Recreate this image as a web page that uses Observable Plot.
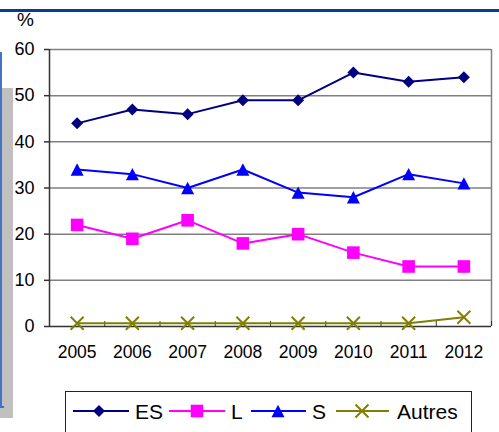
<!DOCTYPE html>
<html><head><meta charset="utf-8">
<script src="https://cdn.jsdelivr.net/npm/d3@7"></script>
<script src="https://cdn.jsdelivr.net/npm/@observablehq/plot@0.6"></script>
<style>
body{margin:0;background:#fff;}
#wrap{position:relative;width:499px;height:432px;overflow:hidden;background:#fff;font-family:"Liberation Sans",Arial,sans-serif;}
#chart{position:absolute;left:0;top:0;}
.topline{position:absolute;left:0;top:9px;width:499px;height:2.5px;background:#0a3b91;}
.pct{position:absolute;left:17px;top:9px;font-size:19px;color:#000;}
.grayL{position:absolute;left:2px;top:88px;width:11px;height:330px;background:#c0c0c0;}
.grayB{position:absolute;left:0px;top:407px;width:13px;height:11px;background:#c0c0c0;}
.blueL{position:absolute;left:0px;top:52px;width:1.5px;height:356px;background:#4472c4;}
.blueB{position:absolute;left:0px;top:406px;width:4px;height:1.5px;background:#4472c4;}
#legend{position:absolute;left:65px;top:391px;width:407px;height:60px;border:1.2px solid #222;box-sizing:border-box;}
#legend svg{position:absolute;left:0;top:0;}
</style></head><body>
<div id="wrap">
  <div class="topline"></div>
  <div class="grayL"></div>
  <div class="grayB"></div>
  <div class="blueL"></div>
  <div class="blueB"></div>
  <div id="chart"></div>
  <div class="pct">%</div>
  <div id="legend"></div>
</div>
<script>
const years = [2005, 2006, 2007, 2008, 2009, 2010, 2011, 2012];
const seriesNames = ["ES", "L", "S", "Autres"];
const esValues = [44, 47, 46, 49, 49, 55, 53, 54];
const lValues = [22, 19, 23, 18, 20, 16, 13, 13];
const sValues = [34, 33, 30, 34, 29, 28, 33, 31];
const autresValues = [0.7, 0.7, 0.7, 0.7, 0.7, 0.7, 0.7, 2];
const yTicks = [0, 10, 20, 30, 40, 50, 60];
const colors = ["#000080", "#FF00FF", "#0000FF", "#808000"];

const valuesBySeries = [esValues, lValues, sValues, autresValues];
const rows = [];
seriesNames.forEach((name, i) => years.forEach((yr, j) => rows.push({series: name, year: yr, value: valuesBySeries[i][j]})));

const symDiamond = {draw(ctx, size){const s = Math.sqrt(size/Math.PI); ctx.moveTo(0,-s); ctx.lineTo(s,0); ctx.lineTo(0,s); ctx.lineTo(-s,0); ctx.closePath();}};
const symSquare = {draw(ctx, size){const s = Math.sqrt(size/Math.PI); ctx.moveTo(-s,-s); ctx.lineTo(s,-s); ctx.lineTo(s,s); ctx.lineTo(-s,s); ctx.closePath();}};
const symTriangle = {draw(ctx, size){const s = Math.sqrt(size/Math.PI); const h = 0.95*s; ctx.moveTo(0,-h); ctx.lineTo(s,h); ctx.lineTo(-s,h); ctx.closePath();}};
const symTimes = {draw(ctx, size){const s = Math.sqrt(size/Math.PI); ctx.moveTo(-s,-s); ctx.lineTo(s,s); ctx.moveTo(-s,s); ctx.lineTo(s,-s);}};
const symbols = [symDiamond, symSquare, symTriangle, symTimes];
const radii = [6, 6.3, 6.5, 6.5];

const xMin = years[0] - 0.5, xMax = years[years.length-1] + 0.5;
const bounds = d3.range(years.length + 1).map(i => xMin + i);

const seriesMarks = [];
seriesNames.forEach((name, i) => {
  const data = rows.filter(r => r.series === name);
  seriesMarks.push(Plot.line(data, {x: "year", y: "value", stroke: colors[i], strokeWidth: 2}));
});
seriesNames.forEach((name, i) => {
  const data = rows.filter(r => r.series === name);
  const isTimes = symbols[i] === symTimes;
  seriesMarks.push(Plot.dot(data, {x: "year", y: "value", symbol: symbols[i], r: radii[i],
    fill: isTimes ? "none" : colors[i], stroke: colors[i], strokeWidth: isTimes ? 2 : 0}));
});

const chart = Plot.plot({
  width: 499, height: 380,
  marginLeft: 49, marginRight: 8, marginTop: 49, marginBottom: 54,
  x: {type: "linear", domain: [xMin, xMax]},
  y: {domain: [0, 60]},
  style: {fontFamily: "'Liberation Sans', Arial, sans-serif", fontSize: "18px", color: "#000", background: "transparent", overflow: "visible"},
  marks: [
    Plot.gridY(yTicks.filter(d => d > 0), {stroke: "#808080", strokeOpacity: 1, strokeWidth: 1.5}),
    Plot.ruleX([xMax], {stroke: "#808080", strokeWidth: 1.5}),
    Plot.ruleX([xMin], {stroke: "#333", strokeWidth: 1.5}),
    Plot.ruleY([0], {stroke: "#333", strokeWidth: 1.5}),
    Plot.axisY({ticks: yTicks, tickSize: 5, tickPadding: 10, label: null, stroke: "#333", strokeWidth: 1.5, fontSize: 18}),
    Plot.axisX({ticks: years, tickSize: 0, tickPadding: 19, tickFormat: d => String(d), label: null, fontSize: 17.5}),
    Plot.axisX({ticks: bounds, tickSize: -5, tickFormat: () => "", label: null, stroke: "#333"}),
    ...seriesMarks
  ]
});
document.getElementById("chart").appendChild(chart);

// Legend
const legendLayout = [
  {x1: 7, x2: 63, m: 33, t: 69},
  {x1: 103, x2: 159, m: 131, t: 165},
  {x1: 185, x2: 240, m: 212, t: 246},
  {x1: 270, x2: 323, m: 296, t: 331}
];
const lsvg = d3.select("#legend").append("svg").attr("width", 407).attr("height", 60);
const ly = 19;
seriesNames.forEach((name, i) => {
  const L = legendLayout[i];
  lsvg.append("line").attr("x1", L.x1).attr("x2", L.x2).attr("y1", ly).attr("y2", ly)
    .attr("stroke", colors[i]).attr("stroke-width", 2);
  const isTimes = symbols[i] === symTimes;
  lsvg.append("path").attr("d", d3.symbol(symbols[i], radii[i]*radii[i]*Math.PI)())
    .attr("transform", `translate(${L.m},${ly})`)
    .attr("fill", isTimes ? "none" : colors[i]).attr("stroke", colors[i]).attr("stroke-width", isTimes ? 2 : 0);
  lsvg.append("text").attr("x", L.t).attr("y", ly + 7.5).text(name)
    .attr("font-size", 21).attr("fill", "#000").attr("font-family", "'Liberation Sans', Arial, sans-serif");
});
</script>
</body></html>
